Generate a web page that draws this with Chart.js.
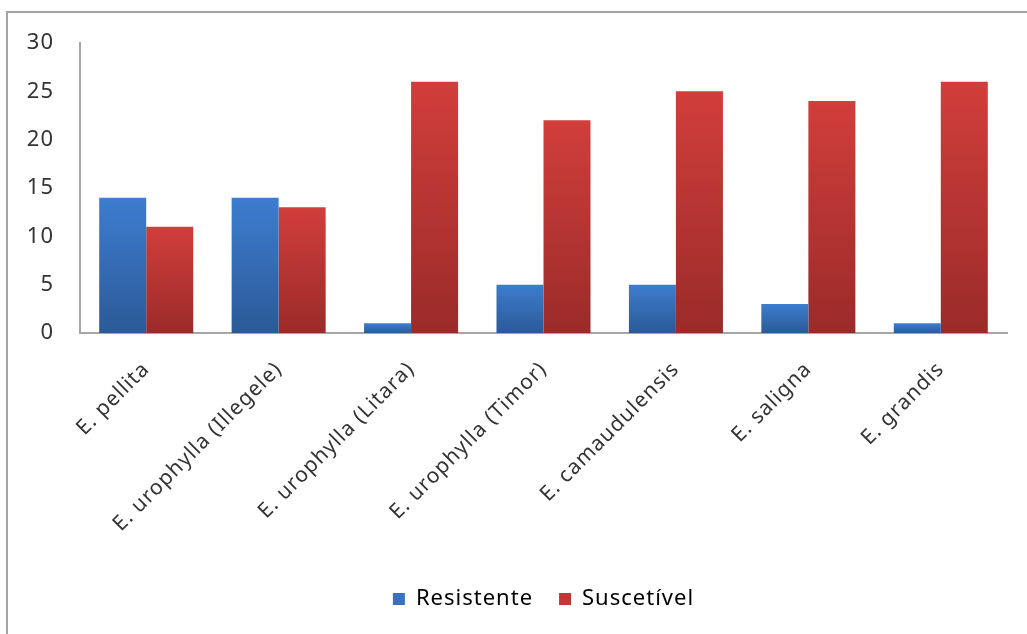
<!DOCTYPE html>
<html>
<head>
<meta charset="utf-8">
<script src="https://cdn.jsdelivr.net/npm/chart.js@4.4.0/dist/chart.umd.min.js"></script>
<style>
  html, body { margin: 0; padding: 0; background: #fff; }
  #wrap { position: relative; width: 1027px; height: 634px; }
  #frame { position: absolute; left: 6px; top: 11px; width: 1040px; height: 640px;
           border-left: 2px solid #a4a4a4; border-top: 2px solid #a4a4a4; }
  canvas { position: absolute; left: 0; top: 0; }
</style>
</head>
<body>
<div id="wrap">
  <div id="frame"></div>
  <canvas id="fungoChart" width="1027" height="634"></canvas>
</div>
<script>
const categories = ['E. pellita', 'E. urophylla (Illegele)', 'E. urophylla (Litara)', 'E. urophylla (Timor)', 'E. camaudulensis', 'E. saligna', 'E. grandis'];
const resistente = [14, 14, 1, 5, 5, 3, 1];
const suscetivel = [11, 13, 26, 22, 25, 24, 26];
const yTicks = [0, 5, 10, 15, 20, 25, 30];

const fontFam = '"Noto Sans", "Open Sans", sans-serif';

// gradient per bar: lighter at the top, darker at the base
function barGradient(top, bottom) {
    return function (context) {
        const chart = context.chart;
        if (!chart.chartArea || context.raw == null) return top;
        const y = chart.scales.y;
        const y0 = y.getPixelForValue(context.raw);
        const y1 = y.getPixelForValue(0);
        const g = chart.ctx.createLinearGradient(0, y0, 0, y1);
        g.addColorStop(0, top);
        g.addColorStop(1, bottom);
        return g;
    };
}

// the original text is a bit spaced out
const spacing = {
    id: 'spacing',
    beforeUpdate: (chart) => { chart.ctx.letterSpacing = '1px'; },
    beforeDraw: (chart) => { chart.ctx.letterSpacing = '1px'; }
};

const data = {
    labels: categories,
    datasets: [{
        label: 'Resistente',
        data: resistente,
        backgroundColor: barGradient('#3d7dcf', '#2b5a97'),
        borderWidth: 0
    }, {
        label: 'Suscetível',
        data: suscetivel,
        backgroundColor: barGradient('#d13e3b', '#9a2b29'),
        borderWidth: 0
    }]
};

const config = {
    type: 'bar',
    data: data,
    plugins: [spacing],
    options: {
        responsive: false,
        animation: false,
        layout: { padding: { top: 43, right: 20, left: 0, bottom: 14 } },
        datasets: { bar: { categoryPercentage: 0.71, barPercentage: 1.0 } },
        scales: {
            y: {
                min: 0,
                max: 30,
                afterBuildTicks: (scale) => { scale.ticks = yTicks.map(v => ({ value: v })); },
                afterFit: (scale) => { scale.width = 80; },
                grid: { display: false, drawTicks: false },
                border: { display: true, color: '#a6a6a6', width: 2 },
                ticks: { color: '#333333', font: { family: fontFam, size: 22 }, padding: 26 }
            },
            x: {
                afterFit: (scale) => { scale.height = 229; },
                grid: { display: false, drawTicks: false },
                border: { display: true, color: '#a6a6a6', width: 2 },
                ticks: {
                    color: '#333333',
                    font: { family: fontFam, size: 21 },
                    minRotation: 45,
                    maxRotation: 45,
                    padding: 24,
                    autoSkip: false
                }
            }
        },
        plugins: {
            legend: {
                position: 'bottom',
                fullSize: false,
                labels: {
                    color: '#333333',
                    font: { family: fontFam, size: 22 },
                    boxWidth: 12,
                    boxHeight: 12,
                    padding: 26,
                    generateLabels: (chart) => chart.data.datasets.map((ds, i) => ({
                        text: ds.label,
                        fillStyle: i === 0 ? '#3a72bd' : '#c23735',
                        strokeStyle: 'transparent',
                        lineWidth: 0,
                        datasetIndex: i
                    }))
                }
            },
            tooltip: { enabled: false }
        }
    }
};

const ctx = document.getElementById('fungoChart').getContext('2d');
const fungoChart = new Chart(ctx, config);
</script>
</body>
</html>
